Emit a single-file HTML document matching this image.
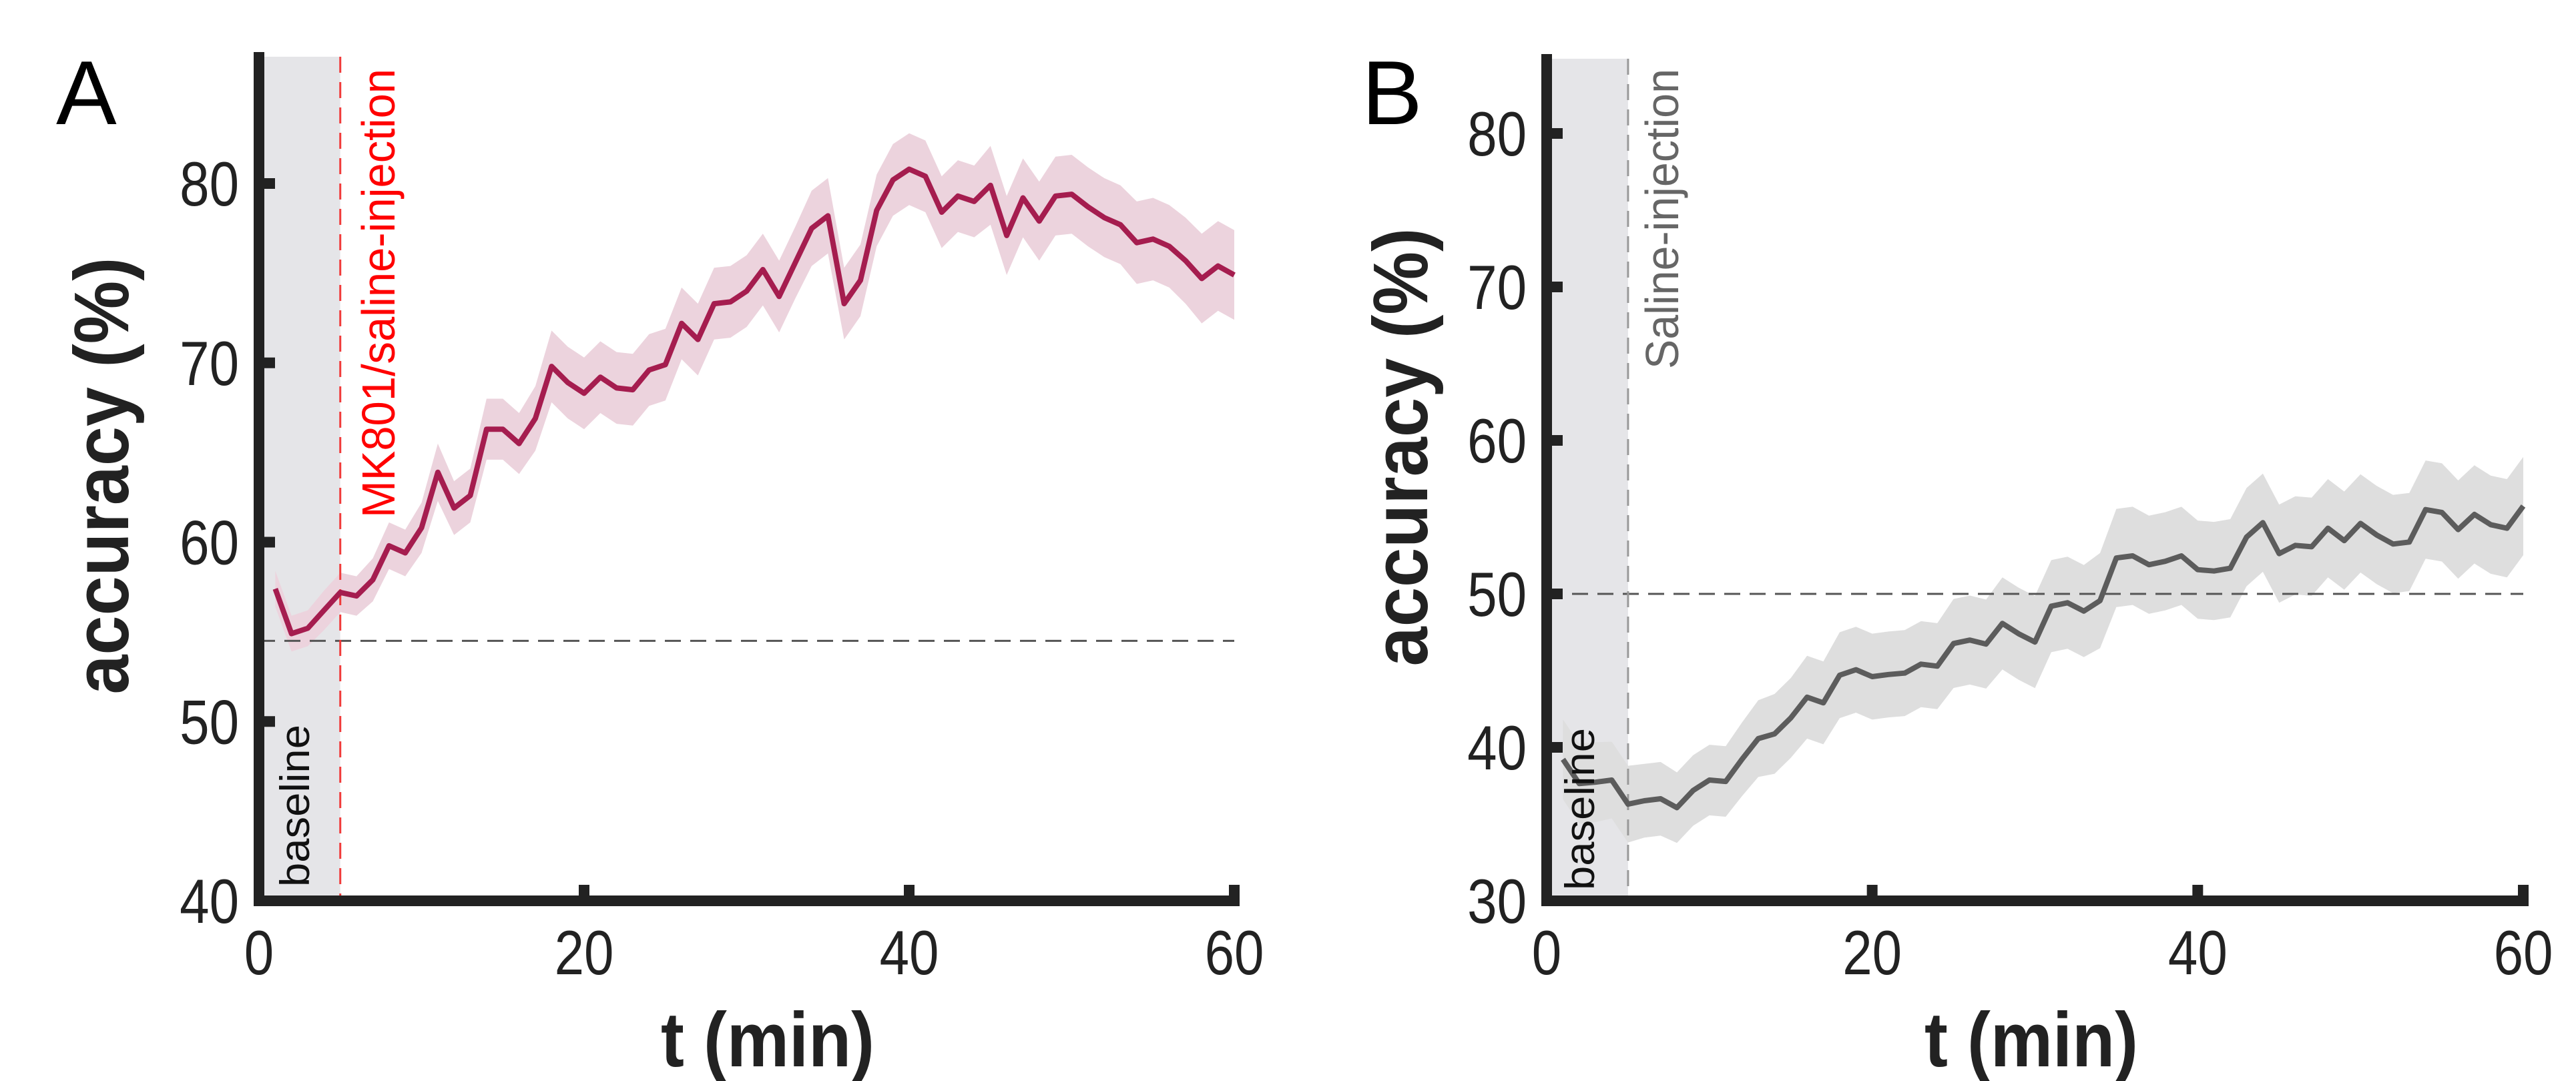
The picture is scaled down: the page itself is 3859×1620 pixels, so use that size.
<!DOCTYPE html>
<html><head><meta charset="utf-8"><style>
html,body{margin:0;padding:0;background:#fff;}
svg{display:block;font-family:"Liberation Sans",sans-serif;}
</style></head><body>
<svg id="fig" width="3859" height="1620" viewBox="0 0 3859 1620" xmlns="http://www.w3.org/2000/svg"></svg>
<script>
const times = Array.from({length:60},(_,i)=>i+1);
const accA = [57.4,54.9,55.2,56.2,57.2,57.0,57.9,59.8,59.4,60.8,63.9,61.9,62.6,66.3,66.3,65.5,66.9,69.8,68.9,68.3,69.2,68.6,68.5,69.6,69.9,72.2,71.3,73.3,73.4,74.0,75.2,73.7,75.6,77.5,78.2,73.3,74.6,78.5,80.2,80.8,80.4,78.4,79.3,79.0,79.9,77.1,79.2,77.9,79.3,79.4,78.7,78.1,77.7,76.7,76.9,76.5,75.7,74.7,75.4,74.9];
const semA = [1.0,1.0,1.0,1.1,1.1,1.1,1.2,1.3,1.3,1.4,1.6,1.5,1.5,1.7,1.7,1.7,1.8,2.0,2.0,2.0,2.0,2.0,2.0,2.0,2.0,2.0,2.0,2.0,2.0,2.0,2.0,2.0,2.0,2.1,2.1,2.0,2.0,2.0,2.0,2.0,2.0,2.0,2.0,2.0,2.2,2.2,2.2,2.2,2.2,2.2,2.2,2.2,2.2,2.3,2.3,2.3,2.4,2.5,2.5,2.5];
const accB = [39.22,37.64,37.73,37.87,36.30,36.52,36.65,36.07,37.19,37.87,37.78,39.22,40.57,40.88,41.92,43.27,42.90,44.70,45.06,44.61,44.75,44.84,45.42,45.29,46.77,46.99,46.73,48.08,47.40,46.86,49.20,49.42,48.88,49.56,52.34,52.48,51.90,52.12,52.48,51.58,51.49,51.67,53.70,54.64,52.62,53.16,53.07,54.28,53.47,54.59,53.83,53.25,53.38,55.49,55.31,54.19,55.18,54.51,54.28,55.72];
const semB = [2.6,2.6,2.6,2.5,2.5,2.4,2.4,2.3,2.3,2.3,2.3,2.4,2.5,2.6,2.6,2.7,2.7,2.8,2.8,2.8,2.8,2.8,2.8,2.8,2.9,2.9,2.9,3.0,3.0,3.0,3.0,3.0,3.0,3.1,3.2,3.2,3.2,3.2,3.2,3.2,3.2,3.2,3.2,3.2,3.2,3.2,3.2,3.2,3.2,3.2,3.2,3.2,3.2,3.2,3.2,3.2,3.2,3.2,3.2,3.2];
const xTicks = [0,20,40,60];
const yTicksA = [40,50,60,70,80];
const yTicksB = [30,40,50,60,70,80];
const refA = 54.5, refB = 50;

const NS="http://www.w3.org/2000/svg";
const svg=document.getElementById('fig');
function mk(tag,attrs,parent){const e=document.createElementNS(NS,tag);for(const k in attrs)e.setAttribute(k,attrs[k]);(parent||svg).appendChild(e);return e;}

function panel(o){
  const g=mk('g',{});
  
  
  const X=t=>o.x0+(t-0)*(o.x60-o.x0)/60;
  const Y=v=>o.yb-(v-o.ymin)*o.ppu;
  const sh=mk('rect',{x:o.x0+8,y:o.top+7,width:X(5)-o.x0-8,height:o.yb-8-o.top-7,fill:'#e5e5e8'},g);
  
  
  let d='';
  times.forEach((t,i)=>{d+=(i?'L':'M')+X(t).toFixed(1)+','+Y(o.acc[i]+o.sem[i]).toFixed(1);});
  for(let i=times.length-1;i>=0;i--){d+='L'+X(times[i]).toFixed(1)+','+Y(o.acc[i]-o.sem[i]).toFixed(1);}
  const band=mk('path',{d:d+'Z',fill:o.band,stroke:'none'},g);
  
  
  const rl=mk('line',{x1:o.x0,x2:X(60),y1:Y(o.ref),y2:Y(o.ref),stroke:'#555',"stroke-width":3,"stroke-dasharray":"24,14"},g);
  
  
  const il=mk('line',{x1:X(5),x2:X(5),y1:o.top+7,y2:o.yb-8,stroke:o.injColor,"stroke-width":3,"stroke-dasharray":"24,14"},g);
  
  
  const pts=times.map((t,i)=>X(t).toFixed(1)+','+Y(o.acc[i]).toFixed(1)).join(' ');
  const ln=mk('polyline',{points:pts,fill:'none',stroke:o.line,"stroke-width":8,"stroke-linejoin":"round"},g);
  
  
  const ya=mk('line',{x1:o.x0,x2:o.x0,y1:o.top,y2:o.yb+8,stroke:'#222',"stroke-width":16},g);
  
  
  const xa=mk('line',{x1:o.x0-8,x2:X(60)+8,y1:o.yb,y2:o.yb,stroke:'#222',"stroke-width":16},g);
  
  
  xTicks.forEach(t=>{
    const tk=mk('line',{x1:X(t),x2:X(t),y1:o.yb,y2:o.yb-24,stroke:'#222',"stroke-width":16},g);
    
    
    const tl=mk('text',{transform:`translate(${X(t)},${o.yb+110}) scale(0.85,1)`,"text-anchor":"middle","font-size":94,fill:'#222'},g);
    tl.textContent=t;
    
    
  });
  o.yTicks.forEach(v=>{
    const tk=mk('line',{x1:o.x0,x2:o.x0+24,y1:Y(v),y2:Y(v),stroke:'#222',"stroke-width":16},g);
    
    
    const tl=mk('text',{transform:`translate(${o.x0-30},${Y(v)+33}) scale(0.85,1)`,"text-anchor":"end","font-size":94,fill:'#222'},g);
    tl.textContent=v;
    
    
  });
  const yl=mk('text',{transform:`translate(${o.ylx},${o.ylc}) rotate(-90)`,"text-anchor":"middle","font-size":116,"font-weight":"bold",fill:'#222',textLength:o.ylLen,lengthAdjust:'spacingAndGlyphs'},g);
  yl.textContent='accuracy (%)';
  
  
  const xl=mk('text',{x:o.xlc,y:1598,"text-anchor":"middle","font-size":116,"font-weight":"bold",fill:'#222',textLength:320,lengthAdjust:'spacingAndGlyphs'},g);
  xl.textContent='t (min)';
  
  
  const pl=mk('text',{x:o.plx,y:186,"font-size":136,fill:'#000'},g);
  pl.textContent=o.letter;
  
  
  const bl=mk('text',{transform:`translate(${o.blx},${o.blb}) rotate(-90)`,"font-size":62,fill:'#111',textLength:243,lengthAdjust:'spacingAndGlyphs'},g);
  bl.textContent='baseline';
  
  
  const inj=mk('text',{transform:`translate(${o.injx},${o.injb}) rotate(-90)`,"font-size":70,fill:o.injText,textLength:o.injLen,lengthAdjust:'spacingAndGlyphs'},g);
  inj.textContent=o.injLabel;
  
  
}

panel({name:'panel-a',letter:'A',plx:84,x0:388,x60:1849,yb:1350,top:78,ymin:40,ppu:26.875,
  acc:accA,sem:semA,yTicks:yTicksA,ref:refA,band:'#ecd3dd',line:'#a51d4f',injColor:'#f03a3a',injText:'#ff0000',
  injLabel:'MK801/saline-injection',injx:591,injb:776,injLen:673,blx:463,blb:1329,
  ylx:192,ylc:713,ylLen:655,xlc:1150});
panel({name:'panel-b',letter:'B',plx:2040,x0:2317,x60:3780,yb:1350,top:81,ymin:30,ppu:23.0,
  acc:accB,sem:semB,yTicks:yTicksB,ref:refB,band:'#dedede',line:'#5c5c5c',injColor:'#999',injText:'#666',
  injLabel:'Saline-injection',injx:2514,injb:553,injLen:450,blx:2388,blb:1334,
  ylx:2138,ylc:670,ylLen:657,xlc:3043});
</script>
</body></html>
